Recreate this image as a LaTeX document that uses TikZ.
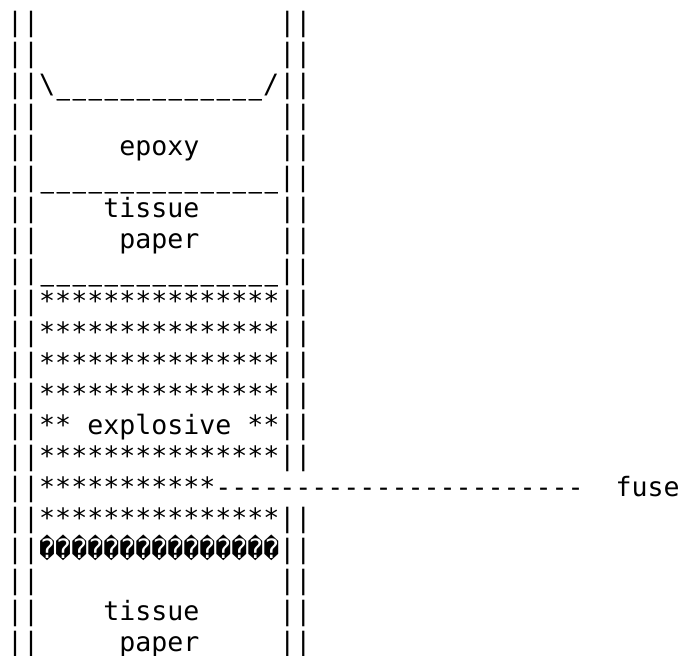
\documentclass[tikz,border=0pt]{standalone}
\usepackage{fontspec}
\newfontfamily\asciifont{DejaVu Sans Mono}
\newfontfamily\rimfont[FakeStretch=0.82,FakeBold=0.5]{DejaVu Sans Mono}
\usepackage{tikz}

\newcommand{\rimstep}{\makebox[16pt]{\rimfont\_}}
\newcommand{\rimrun}{\rimstep\rimstep\rimstep\rimstep\rimstep\rimstep\rimstep\rimstep\rimstep\rimstep\rimstep\rimstep\rimstep}

\begin{document}
\begin{tikzpicture}[
  x=1pt, y=1pt,
  every node/.style={anchor=base west, inner sep=0pt, font=\asciifont\fontsize{26.6}{31}\selectfont}
]

\clip (0,0) rectangle (683,656);

% cap
\node (wall0) at (7,624) {||~~~~~~~~~~~~~~~||};
\node (wall1) at (7,593) {||~~~~~~~~~~~~~~~||};
\node (cap2) at (7,562) {||\textbackslash\rimrun/||};

% epoxy
\node (wall3) at (7,531) {||~~~~~~~~~~~~~~~||};
\node (epoxy) at (7,500) {||~~~~~epoxy~~~~~||};
\node (floor5) at (7,469) {||\rimstep\rimrun\rimstep||};

% upper tissue paper
\node (tissue6) at (7,438) {||~~~~tissue~~~~~||};
\node (paper7) at (7,407) {||~~~~~paper~~~~~||};
\node (floor8) at (7,376) {||\rimstep\rimrun\rimstep||};

% explosive
\node (star9) at (7,345) {||***************||};
\node (star10) at (7,314) {||***************||};
\node (star11) at (7,283) {||***************||};
\node (star12) at (7,252) {||***************||};
\node (explosive) at (7,221) {||**~explosive~**||};
\node (star14) at (7,190) {||***************||};
\node (fuse) at (7,159) {||***********{-}{-}{-}{-}{-}{-}{-}{-}{-}{-}{-}{-}{-}{-}{-}{-}{-}{-}{-}{-}{-}{-}{-}~~fuse};
\node (star16) at (7,128) {||***************||};
\node (bad17) at (7,97) {||^^^^fffd^^^^fffd^^^^fffd^^^^fffd^^^^fffd^^^^fffd^^^^fffd^^^^fffd^^^^fffd^^^^fffd^^^^fffd^^^^fffd^^^^fffd^^^^fffd^^^^fffd||};

% lower tissue paper
\node (wall18) at (7,66) {||~~~~~~~~~~~~~~~||};
\node (tissue19) at (7,35) {||~~~~tissue~~~~~||};
\node (paper20) at (7,4) {||~~~~~paper~~~~~||};

\end{tikzpicture}
\end{document}
